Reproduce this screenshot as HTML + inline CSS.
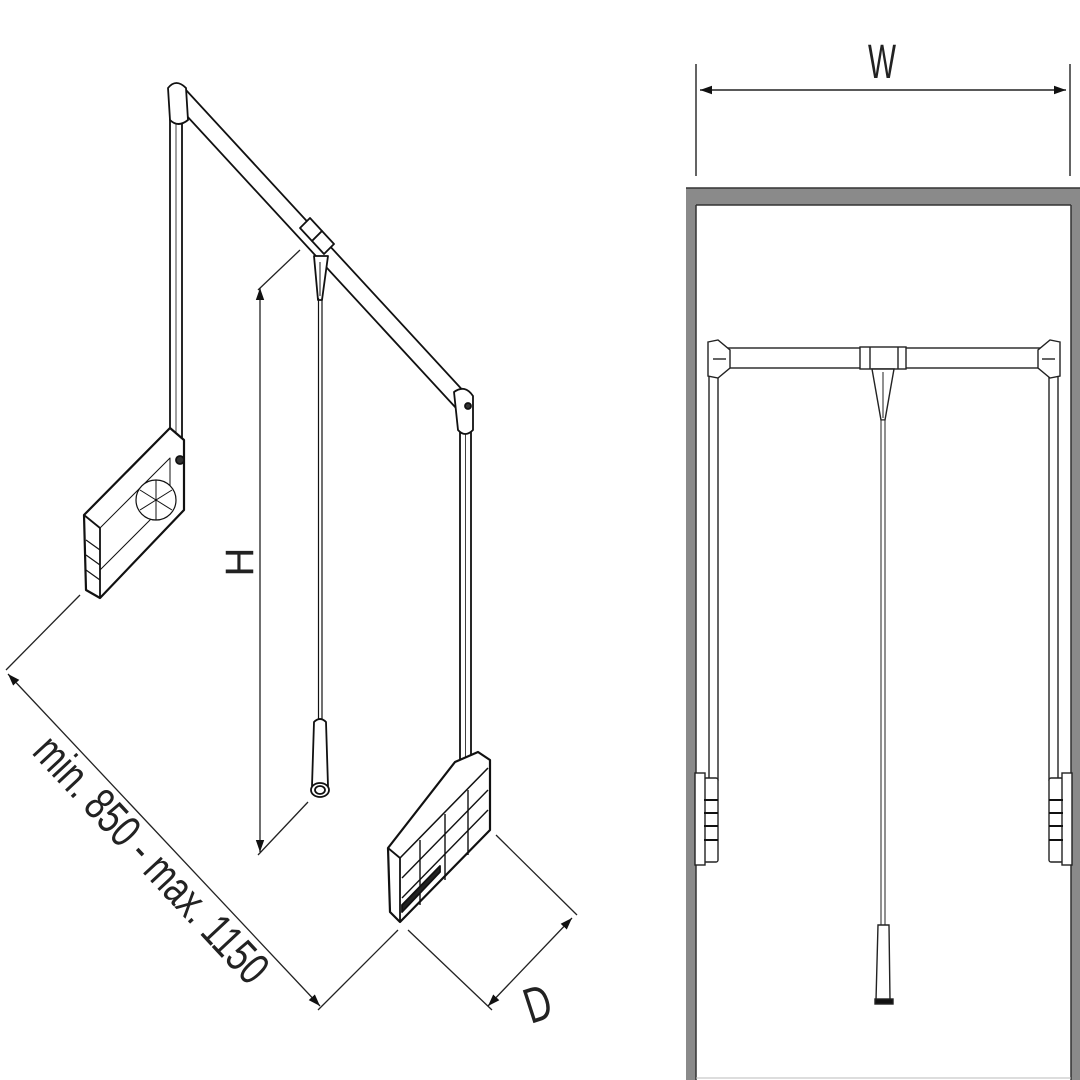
<!DOCTYPE html>
<html><head><meta charset="utf-8"><style>
html,body{margin:0;padding:0;background:#fff}
svg{display:block}
text{font-family:"Liberation Sans",sans-serif;fill:#222}
</style></head><body>
<svg width="1080" height="1080" viewBox="0 0 1080 1080" xmlns="http://www.w3.org/2000/svg">
<defs>
<marker id="ar" viewBox="0 0 10 10" refX="10" refY="5" markerWidth="12" markerHeight="12" orient="auto-start-reverse" markerUnits="userSpaceOnUse">
<path d="M0,1.5 L10,5 L0,8.5 z" fill="#111"/>
</marker>
</defs>
<rect width="1080" height="1080" fill="#fff"/>

<g stroke="#111" stroke-width="1.8" fill="#fff" stroke-linejoin="round">
  <rect x="170" y="100" width="12" height="350"/>
  <line x1="176" y1="110" x2="176" y2="450" stroke-width="0.8"/>
  <rect x="460" y="410" width="11" height="352"/>
  <line x1="465.5" y1="420" x2="465.5" y2="760" stroke-width="0.8"/>
  <polygon points="186,90 468,396 456,408 174,102"/>
  <polygon points="300,228 310,218 322,231 312,241"/>
  <polygon points="322,231 334,244 324,254 312,241"/>
  <path d="M168,88 Q176,78 186,88 L188,120 Q178,128 170,120 Z"/>
  <path d="M454,392 Q465,384 473,396 L473,430 Q465,438 458,430 Z"/>
  <circle cx="468" cy="406" r="3" fill="#333"/>
  <path d="M314,256 L328,256 L322,300 L318,300 Z"/>
  <line x1="320" y1="262" x2="320" y2="296" stroke-width="1"/>
  <line x1="318.5" y1="298" x2="318.5" y2="720" stroke-width="1.2"/>
  <line x1="322" y1="298" x2="322" y2="720" stroke-width="1.2"/>
  <path d="M314,722 Q320,716 326,722 L328,786 L312,786 Z"/>
  <ellipse cx="320" cy="790" rx="9" ry="7"/>
  <ellipse cx="320" cy="790" rx="5" ry="4"/>
  <polygon points="84,515 170,428 184,440 184,510 100,598 86,590" stroke-width="2.2"/>
  <polygon points="100,528 170,458 170,500 100,570" stroke-width="1"/>
  <line x1="84" y1="515" x2="100" y2="528"/>
  <line x1="100" y1="528" x2="100" y2="598"/>
  <circle cx="156" cy="500" r="20" stroke-width="1.2"/>
  <line x1="156" y1="480" x2="156" y2="520" stroke-width="1"/>
  <line x1="140" y1="490" x2="172" y2="510" stroke-width="1"/>
  <line x1="140" y1="510" x2="172" y2="490" stroke-width="1"/>
  <circle cx="180" cy="460" r="4" fill="#333"/>
  <g stroke-width="1.2"><line x1="86" y1="540" x2="100" y2="550"/><line x1="86" y1="555" x2="100" y2="565"/><line x1="86" y1="570" x2="100" y2="580"/></g>
  <polygon points="388,848 455,762 478,752 490,760 490,830 400,922 390,912" stroke-width="2.2"/>
  <line x1="400" y1="858" x2="488" y2="768" stroke-width="1.6"/>
  <line x1="400" y1="858" x2="400" y2="922"/>
  <line x1="388" y1="848" x2="400" y2="858"/>
  <g stroke-width="1.4">
    <line x1="402" y1="878" x2="488" y2="790"/>
    <line x1="402" y1="898" x2="488" y2="810"/>
    <line x1="420" y1="840" x2="420" y2="905"/>
    <line x1="445" y1="814" x2="445" y2="880"/>
    <line x1="468" y1="790" x2="468" y2="855"/>
  </g>
  <polygon points="402,905 440,866 440,872 402,912" fill="#222"/>
</g>

<g stroke="#222" stroke-width="1.3" fill="none">
  <line x1="80" y1="595" x2="6" y2="670"/>
  <line x1="398" y1="930" x2="318" y2="1010"/>
  <line x1="8" y1="674" x2="320" y2="1006" marker-start="url(#ar)" marker-end="url(#ar)"/>
  <line x1="258" y1="290" x2="300" y2="250"/>
  <line x1="258" y1="855" x2="308" y2="802"/>
  <line x1="260" y1="288" x2="260" y2="852" marker-start="url(#ar)" marker-end="url(#ar)"/>
  <line x1="408" y1="930" x2="492" y2="1010"/>
  <line x1="496" y1="835" x2="577" y2="915"/>
  <line x1="488" y1="1006" x2="572" y2="918" marker-start="url(#ar)" marker-end="url(#ar)"/>
</g>
<text x="0" y="0" font-size="46" textLength="320" lengthAdjust="spacingAndGlyphs" text-anchor="middle" transform="translate(140,870) rotate(47)">min. 850 - max. 1150</text>
<text x="0" y="0" font-size="40" text-anchor="middle" transform="translate(253,562) rotate(-90)">H</text>
<text x="0" y="0" font-size="50" textLength="26" lengthAdjust="spacingAndGlyphs" text-anchor="middle" transform="translate(543,1020) rotate(-18)">D</text>

<g stroke="#222" stroke-width="1.4">
  <line x1="696" y1="64" x2="696" y2="176"/>
  <line x1="1070" y1="64" x2="1070" y2="176"/>
  <line x1="700" y1="90" x2="1066" y2="90" marker-start="url(#ar)" marker-end="url(#ar)"/>
</g>
<text x="882" y="78" font-size="48" textLength="28" lengthAdjust="spacingAndGlyphs" text-anchor="middle">W</text>

<rect x="686" y="188" width="394" height="17" fill="#8a8a8a"/>
<rect x="686" y="188" width="10" height="892" fill="#8a8a8a"/>
<rect x="1071" y="188" width="9" height="892" fill="#8a8a8a"/>
<line x1="696" y1="205" x2="1071" y2="205" stroke="#333" stroke-width="1.5"/>
<line x1="686" y1="188" x2="1080" y2="188" stroke="#333" stroke-width="1.5"/>
<line x1="696" y1="205" x2="696" y2="1080" stroke="#333" stroke-width="1.5"/>
<line x1="1071" y1="205" x2="1071" y2="1080" stroke="#333" stroke-width="1.5"/>
<line x1="696" y1="1078" x2="1071" y2="1078" stroke="#bbb" stroke-width="1"/>

<g stroke="#222" stroke-width="1.4" fill="#fff">
  <rect x="709" y="370" width="9" height="410"/>
  <rect x="1049" y="370" width="9" height="410"/>
  <rect x="728" y="348" width="312" height="20"/>
  <rect x="860" y="347" width="46" height="22"/>
  <line x1="870" y1="347" x2="870" y2="369"/>
  <line x1="898" y1="347" x2="898" y2="369"/>
  <path d="M708,342 L718,340 L730,350 L730,368 L718,378 L708,376 Z"/>
  <path d="M1060,342 L1050,340 L1038,350 L1038,368 L1050,378 L1060,376 Z"/>
  <line x1="713" y1="359" x2="726" y2="359"/>
  <line x1="1042" y1="359" x2="1055" y2="359"/>
  <path d="M872,369 L894,369 L885,420 L881,420 Z"/>
  <line x1="883" y1="372" x2="883" y2="418" stroke-width="1"/>
  <rect x="881" y="420" width="4" height="505" stroke-width="1"/>
  <path d="M878,925 L889,925 L890,1000 L876,1000 Z"/>
  <rect x="875" y="999" width="18" height="5" fill="#111"/>
  <rect x="704" y="778" width="14" height="84" rx="2"/>
  <rect x="695" y="773" width="10" height="92"/>
  <rect x="1049" y="778" width="14" height="84" rx="2"/>
  <rect x="1062" y="773" width="10" height="92"/>
</g>
<g stroke="#111" stroke-width="2">
  <line x1="704" y1="800" x2="718" y2="800"/><line x1="704" y1="813" x2="718" y2="813"/><line x1="704" y1="826" x2="718" y2="826"/><line x1="704" y1="840" x2="718" y2="840"/>
  <line x1="1049" y1="800" x2="1063" y2="800"/><line x1="1049" y1="813" x2="1063" y2="813"/><line x1="1049" y1="826" x2="1063" y2="826"/><line x1="1049" y1="840" x2="1063" y2="840"/>
</g>
</svg>
</body></html>
